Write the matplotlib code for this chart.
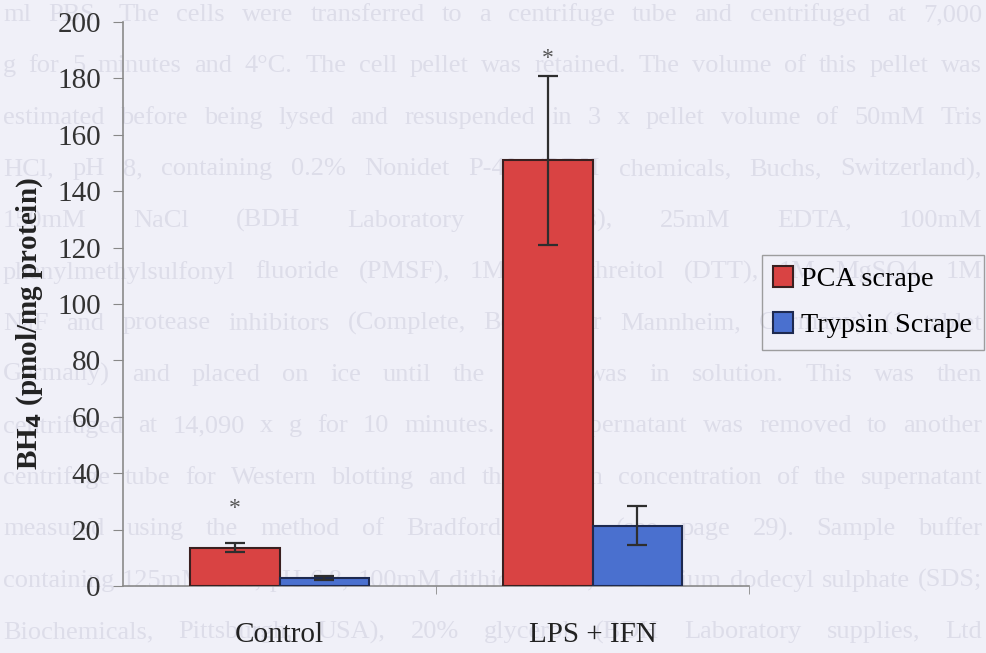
import matplotlib
matplotlib.use("Agg")
import matplotlib.pyplot as plt
import numpy as np

# ---------------- data ----------------
categories = ["Control", "LPS + IFN"]
series_names = ["PCA scrape", "Trypsin Scrape"]
pca_values = [13.5, 151.0]
pca_err = [1.6, 30.0]
trypsin_values = [2.8, 21.4]
trypsin_err = [0.6, 7.0]
significance_y = [27.5, 187.0]
y_ticks = [0, 20, 40, 60, 80, 100, 120, 140, 160, 180, 200]

# faint bleed-through text of the scanned page
page_lines = [
    "ml PBS. The cells were transferred to a centrifuge tube and centrifuged at 7,000",
    "g for 5 minutes and 4°C. The cell pellet was retained. The volume of this pellet was",
    "estimated before being lysed and resuspended in 3 x pellet volume of 50mM Tris",
    "HCl, pH 8, containing 0.2% Nonidet P-40 (BDH chemicals, Buchs, Switzerland),",
    "150mM NaCl (BDH Laboratory supplies), 25mM EDTA, 100mM",
    "phenylmethylsulfonyl fluoride (PMSF), 1M dithiothreitol (DTT), 1M MgSO4, 1M",
    "NaF and protease inhibitors (Complete, Boehringer Mannheim, Germany) (1 tablet",
    "Germany) and placed on ice until the pellet was in solution. This was then",
    "centrifuged at 14,090 x g for 10 minutes. The supernatant was removed to another",
    "centrifuge tube for Western blotting and the protein concentration of the supernatant",
    "measured using the method of Bradford (1976) (see page 29). Sample buffer",
    "containing 125mM Tris, pH 6.8, 100mM dithiothreitol, 4% sodium dodecyl sulphate (SDS;",
    "Biochemicals, Pittsburgh, USA), 20% glycerol (BDH Laboratory supplies, Ltd",
]

# ---------------- style ----------------
W, H, DPI = 986, 653, 100
bg = "#f0f0f8"
ghost = "#dddde9"
red = "#d94343"
blue = "#4a70cf"
serif = ["Liberation Serif", "DejaVu Serif"]

fig = plt.figure(figsize=(W / DPI, H / DPI), dpi=DPI, facecolor=bg)

# background ghost text, justified across the page width
fig.canvas.draw()
renderer = fig.canvas.get_renderer()
line_y0, line_y1 = 15, 632
n = len(page_lines)
for i, line in enumerate(page_lines):
    ypx = line_y0 + (line_y1 - line_y0) * i / (n - 1)
    words = line.split()
    widths = []
    for w in words:
        t = fig.text(0, 0, w, fontsize=19, family=serif)
        bb = t.get_window_extent(renderer)
        widths.append(bb.width)
        t.remove()
    left, right = 3, W - 4
    gap = (right - left - sum(widths)) / max(len(words) - 1, 1)
    gap = max(gap, 4)
    x = left
    for w, wd in zip(words, widths):
        fig.text(x / W, 1 - ypx / H, w, fontsize=19, family=serif,
                 color=ghost, ha="left", va="center", zorder=0)
        x += wd + gap

ax = fig.add_axes([123 / W, 1 - 586 / H, (749 - 123) / W, (586 - 22) / H])
ax.set_facecolor("none")
ax.set_zorder(2)

x = np.arange(len(categories))
bw = 0.286
err_kw = dict(ecolor="#2e2e2e", elinewidth=1.6, capsize=7, capthick=1.6)
ax.bar(x - bw / 2, pca_values, bw, yerr=pca_err, color=red, edgecolor="#3a2020",
       linewidth=1.5, label=series_names[0], error_kw=err_kw, zorder=3)
ax.bar(x + bw / 2, trypsin_values, bw, yerr=trypsin_err, color=blue, edgecolor="#1e2a50",
       linewidth=1.5, label=series_names[1], error_kw=err_kw, zorder=3)

for xi, sy in zip(x, significance_y):
    ax.text(xi - bw / 2, sy, "*", ha="center", va="center", fontsize=17,
            color="#555555", family=serif, zorder=4)

ax.set_xlim(-0.5, 1.5)
ax.set_ylim(0, 200)
ax.set_yticks(y_ticks)
ax.set_yticklabels([str(v) for v in y_ticks], fontsize=21, family=serif, color="#333333")
ax.set_xticks(x)
ax.set_xticklabels(categories, fontsize=21, family=serif, color="#222222")
ax.set_xticks([0.5, 1.5], minor=True)
ax.tick_params(axis="x", which="major", length=0, pad=26)
ax.tick_params(axis="x", which="minor", length=6, color="#888888", direction="out")
ax.tick_params(axis="y", length=7, color="#888888", direction="out", pad=9)

for s in ["top", "right"]:
    ax.spines[s].set_visible(False)
for s in ["left", "bottom"]:
    ax.spines[s].set_color("#8a8a8a")
    ax.spines[s].set_linewidth(1.2)

ax.set_ylabel(r"BH$_\mathbf{4}$ (pmol/mg protein)", fontsize=21, fontweight="bold",
              family=serif, color="#222222")
ax.yaxis.set_label_coords(-0.125, 0.466)

leg = ax.legend(loc="upper left", bbox_to_anchor=(762 / W, 1 - 255 / H),
                bbox_transform=fig.transFigure, frameon=True, fancybox=False,
                prop={"family": serif, "size": 20.3}, handlelength=0.7,
                handleheight=0.75, handletextpad=0.3, labelspacing=0.7,
                borderpad=0.4, borderaxespad=0)
leg.get_frame().set_facecolor("none")
leg.get_frame().set_edgecolor("#888888")
leg.get_frame().set_linewidth(1.0)

fig.savefig("out.png", dpi=DPI, facecolor=bg)
